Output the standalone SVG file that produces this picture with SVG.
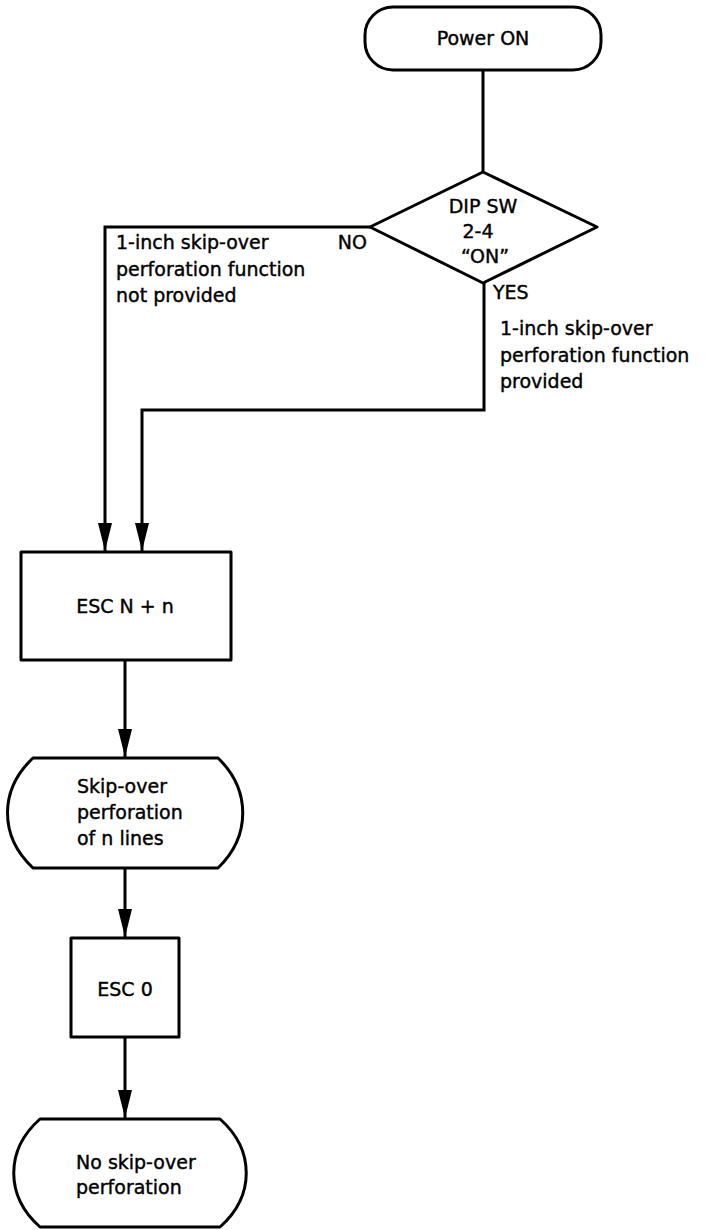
<svg xmlns="http://www.w3.org/2000/svg" width="705" height="1230" viewBox="0 0 705 1230">
<style>
.s{fill:#fff;stroke:#000;stroke-width:3;stroke-linejoin:round}
.c{fill:none;stroke:#000;stroke-width:3}
text{font-family:"DejaVu Sans","Liberation Sans",sans-serif;font-size:19px;fill:#000;stroke:#000;stroke-width:0.4}
.m{text-anchor:middle}
</style>
<defs>
<marker id="ah" markerUnits="userSpaceOnUse" markerWidth="30" markerHeight="16" viewBox="0 0 30 16" refX="29" refY="8" orient="auto">
<path d="M1,1 L29,8 L1,15 Z" fill="#000"/>
</marker>
</defs>
<g id="connectors">
<line class="c" x1="483" y1="70" x2="483" y2="172"/>
<path class="c" d="M370,227 H105 V551" marker-end="url(#ah)"/>
<path class="c" d="M484,283 V410 H142 V551" marker-end="url(#ah)"/>
<path class="c" d="M125,660 V757" marker-end="url(#ah)"/>
<path class="c" d="M125,868 V937" marker-end="url(#ah)"/>
<path class="c" d="M125,1037 V1118" marker-end="url(#ah)"/>
</g>
<g id="power-on">
<rect class="s" x="365" y="7" width="236" height="63" rx="28" ry="28"/>
<text class="m" x="483" y="45">Power ON</text>
</g>
<g id="dip-sw">
<polygon class="s" points="483,172 597,227 483,283 370,227"/>
<text class="m" x="483" y="213">DIP SW</text>
<text class="m" x="478" y="238">2-4</text>
<text class="m" x="485" y="263">“ON”</text>
</g>
<g id="label-no">
<text x="367" y="249" text-anchor="end">NO</text>
<text x="116" y="249">1-inch skip-over</text>
<text x="116" y="276">perforation function</text>
<text x="116" y="302">not provided</text>
</g>
<g id="label-yes">
<text x="493" y="299">YES</text>
<text x="500" y="335">1-inch skip-over</text>
<text x="500" y="362">perforation function</text>
<text x="500" y="388">provided</text>
</g>
<g id="esc-n">
<rect class="s" x="21" y="552" width="210" height="108"/>
<text class="m" x="125" y="613">ESC N + n</text>
</g>
<g id="skip-over">
<path class="s" d="M33,758 H218 C251,790 251,836 218,868 H33 C-1,836 -1,790 33,758 Z"/>
<text x="77" y="793">Skip-over</text>
<text x="77" y="819">perforation</text>
<text x="77" y="845">of n lines</text>
</g>
<g id="esc-0">
<rect class="s" x="71" y="938" width="108" height="99"/>
<text class="m" x="125" y="996">ESC 0</text>
</g>
<g id="no-skip">
<path class="s" d="M40,1119 H220 C255,1150 255,1196 220,1227 H40 C5,1196 5,1150 40,1119 Z"/>
<text x="76" y="1169">No skip-over</text>
<text x="76" y="1194">perforation</text>
</g>
</svg>
